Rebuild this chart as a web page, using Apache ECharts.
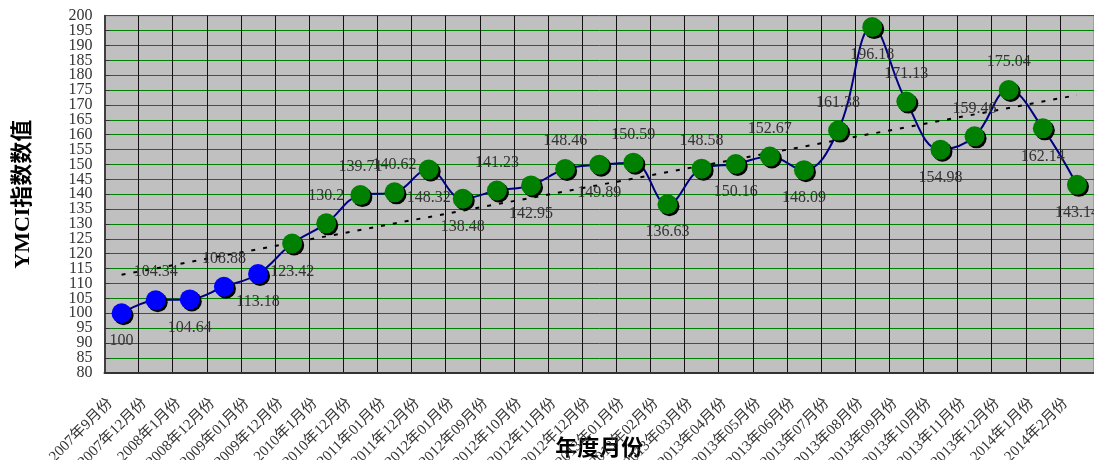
<!DOCTYPE html>
<html>
<head>
<meta charset="utf-8">
<script src="https://cdn.jsdelivr.net/npm/echarts@6/dist/echarts.min.js"></script>
<style>
  html, body { margin: 0; padding: 0; background: #fff; }
  #main { width: 1094px; height: 460px; }
</style>
</head>
<body>
<div id="main"></div>
<script>
// 月份
var months = [
  '2007年9月份', '2007年12月份', '2008年1月份', '2008年12月份', '2009年01月份',
  '2009年12月份', '2010年1月份', '2010年12月份', '2011年01月份', '2011年12月份',
  '2012年01月份', '2012年09月份', '2012年10月份', '2012年11月份', '2012年12月份',
  '2013年01月份', '2013年02月份', '2013年03月份', '2013年04月份', '2013年05月份',
  '2013年06月份', '2013年07月份', '2013年08月份', '2013年09月份', '2013年10月份',
  '2013年11月份', '2013年12月份', '2014年1月份', '2014年2月份'
];
// YMCI指数
var indexValues = [
  100, 104.34, 104.64, 108.88, 113.18, 123.42, 130.2, 139.71, 140.62, 148.32,
  138.48, 141.23, 142.95, 148.46, 149.89, 150.59, 136.63, 148.58, 150.16, 152.67,
  148.09, 161.38, 196.18, 171.13, 154.98, 159.46, 175.04, 162.14, 143.14
];
// 趋势线两端
var trendStart = 112.9;
var trendEnd = 173.3;
// 前几个点用蓝色
var blueCount = 5;
// y轴范围
var yMin = 80;
var yMax = 200;
var yStep = 5;

// 标签放在点下方的序号
var belowIdx = [0, 2, 4, 5, 9, 10, 12, 14, 16, 18, 20, 22, 24, 27, 28];

var myChart = echarts.init(document.getElementById('main'));

var pointData = [];
indexValues.forEach(function (v, i) {
  pointData.push({
    value: v,
    itemStyle: { color: i < blueCount ? '#0000ff' : '#008000' },
    label: { position: belowIdx.indexOf(i) > -1 ? 'bottom' : 'top' }
  });
});

var serif = '"Liberation Serif", "Noto Sans CJK SC", serif';
var yLabelStyle = { margin: 12, fontFamily: serif, fontSize: 16, color: '#333', hideOverlap: false };

var option = {
  animation: false,
  grid: {
    left: 104.5,
    right: 0,
    top: 15.7,
    bottom: 87.3,
    outerBoundsMode: 'none',
    containLabel: false,
    show: true,
    backgroundColor: '#c0c0c0',
    borderColor: '#808080',
    borderWidth: 1
  },
  xAxis: {
    type: 'category',
    data: months,
    boundaryGap: true,
    name: '年度月份',
    nameLocation: 'middle',
    nameGap: 63,
    nameMoveOverlap: false,
    nameTextStyle: {
      fontFamily: '"Noto Sans CJK SC"',
      fontSize: 22,
      fontWeight: 'bold',
      color: '#000'
    },
    axisLine: { show: true, lineStyle: { color: '#333', width: 2 } },
    axisTick: { show: false },
    splitLine: { show: true, lineStyle: { color: '#111', width: 1 } },
    axisLabel: {
      interval: 0,
      rotate: 45,
      margin: 17,
      padding: [0, 16, 0, 0],
      hideOverlap: false,
      fontFamily: serif,
      fontSize: 15,
      color: '#333'
    }
  },
  yAxis: [
    {
      type: 'value',
      min: yMin,
      max: yMax,
      interval: yStep,
      name: 'YMCI指数数值',
      nameLocation: 'middle',
      nameRotate: 90,
      nameGap: 70,
      nameMoveOverlap: false,
      nameTextStyle: {
        fontFamily: serif,
        fontSize: 22,
        fontWeight: 'bold',
        color: '#000'
      },
      axisLine: { show: true, lineStyle: { color: '#404040', width: 2 } },
      axisTick: { show: true, inside: true, length: 5, lineStyle: { color: '#333' } },
      splitLine: { show: true, lineStyle: { color: '#008000', width: 1 } },
      axisLabel: Object.assign({ showMinLabel: false, showMaxLabel: false }, yLabelStyle)
    },
    {
      // 只画首尾两个刻度标签
      type: 'value',
      position: 'left',
      min: yMin,
      max: yMax,
      interval: yStep,
      axisLine: { show: false },
      axisTick: { show: false },
      splitLine: { show: false },
      axisLabel: Object.assign({
        showMinLabel: true,
        showMaxLabel: true,
        formatter: function (v) {
          return (v === yMin || v === yMax) ? String(v) : '';
        }
      }, yLabelStyle)
    }
  ],
  series: [
    {
      // 趋势线
      name: 'trend',
      type: 'line',
      data: [[months[0], trendStart], [months[months.length - 1], trendEnd]],
      symbol: 'none',
      silent: true,
      lineStyle: { color: '#000', width: 2, type: [4, 8] }
    },
    {
      name: 'YMCI',
      type: 'line',
      data: pointData,
      smooth: 0.4,
      symbol: 'circle',
      symbolSize: 20,
      lineStyle: { color: '#000080', width: 2 },
      itemStyle: {
        shadowColor: '#000',
        shadowBlur: 0,
        shadowOffsetX: 2,
        shadowOffsetY: 2
      },
      label: {
        show: true,
        distance: 10,
        fontFamily: serif,
        fontSize: 16,
        color: '#333'
      }
    }
  ]
};

option && myChart.setOption(option);
</script>
</body>
</html>
